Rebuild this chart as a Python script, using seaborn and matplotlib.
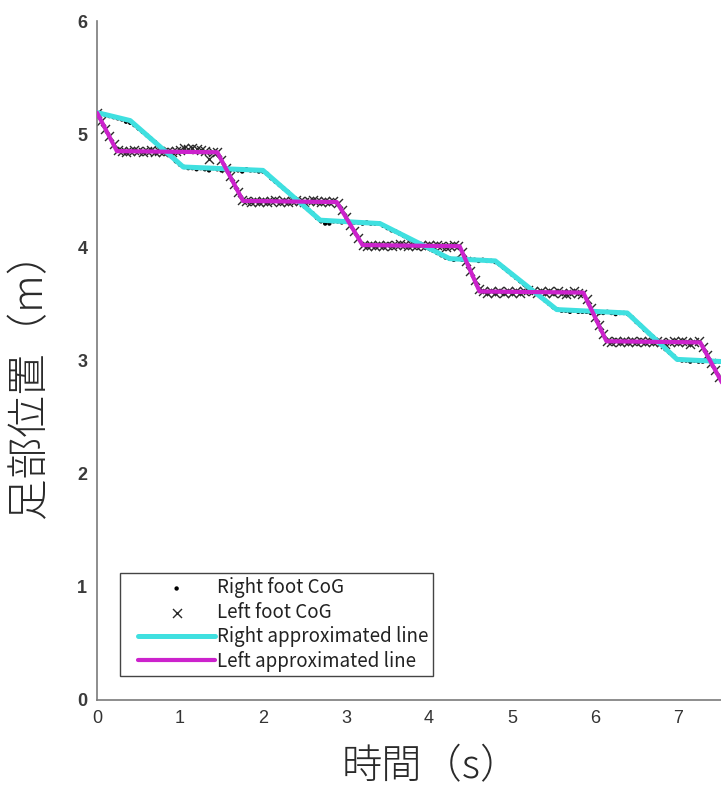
import numpy as np
import matplotlib
matplotlib.use('Agg')
import matplotlib.pyplot as plt
from matplotlib.lines import Line2D
from matplotlib.collections import PathCollection
from matplotlib.legend_handler import HandlerLine2D, HandlerPathCollection
import seaborn as sns

# ---- data ----
time_s = np.round(np.arange(151) * 0.05, 2)   # sampling instants 0.00 .. 7.50 s

right_foot = [
    5.19, 5.18, 5.17, 5.16, 5.15, 5.14, 5.13, 5.11, 5.10, 5.08,
    5.05, 5.02, 4.99, 4.96, 4.93, 4.89, 4.86, 4.83, 4.80, 4.76,
    4.73, 4.71, 4.70, 4.70, 4.69, 4.70, 4.69, 4.68, 4.70, 4.69,
    4.68, 4.69, 4.68, 4.69, 4.68, 4.67, 4.69, 4.68, 4.68, 4.67,
    4.67, 4.65, 4.61, 4.58, 4.55, 4.52, 4.49, 4.45, 4.42, 4.39,
    4.36, 4.33, 4.30, 4.26, 4.23, 4.21, 4.21, 4.23, 4.23, 4.22,
    4.23, 4.22, 4.22, 4.22, 4.21, 4.22, 4.21, 4.21, 4.21, 4.19,
    4.17, 4.15, 4.14, 4.12, 4.10, 4.08, 4.06, 4.04, 4.02, 4.00,
    3.99, 3.97, 3.95, 3.93, 3.91, 3.90, 3.89, 3.90, 3.89, 3.89,
    3.89, 3.89, 3.88, 3.89, 3.88, 3.88, 3.87, 3.85, 3.82, 3.79,
    3.76, 3.73, 3.70, 3.67, 3.64, 3.61, 3.59, 3.56, 3.53, 3.50,
    3.47, 3.45, 3.44, 3.44, 3.43, 3.44, 3.43, 3.43, 3.43, 3.42,
    3.43, 3.42, 3.42, 3.43, 3.42, 3.41, 3.42, 3.42, 3.41, 3.38,
    3.34, 3.31, 3.27, 3.24, 3.21, 3.17, 3.14, 3.10, 3.07, 3.04,
    3.01, 3.00, 3.00, 2.99, 3.00, 2.99, 2.99, 3.00, 2.99, 2.99,
    2.99,
]

left_foot = [
    5.19, 5.12, 5.05, 4.98, 4.91, 4.86, 4.85, 4.84, 4.85, 4.86,
    4.85, 4.84, 4.85, 4.86, 4.84, 4.85, 4.84, 4.85, 4.84, 4.85,
    4.86, 4.88, 4.87, 4.88, 4.87, 4.86, 4.85, 4.78, 4.84, 4.84,
    4.77, 4.70, 4.63, 4.56, 4.49, 4.42, 4.41, 4.40, 4.41, 4.40,
    4.41, 4.40, 4.41, 4.42, 4.40, 4.41, 4.40, 4.41, 4.42, 4.41,
    4.40, 4.41, 4.42, 4.41, 4.40, 4.41, 4.40, 4.41, 4.39, 4.33,
    4.27, 4.20, 4.14, 4.08, 4.02, 4.01, 4.02, 4.01, 4.02, 4.01,
    4.02, 4.01, 4.02, 4.03, 4.02, 4.01, 4.02, 4.01, 4.02, 4.01,
    4.02, 4.01, 4.02, 4.01, 4.00, 4.01, 4.02, 4.01, 3.96, 3.88,
    3.79, 3.71, 3.63, 3.61, 3.60, 3.61, 3.60, 3.61, 3.60, 3.61,
    3.60, 3.61, 3.60, 3.61, 3.62, 3.61, 3.60, 3.61, 3.60, 3.61,
    3.60, 3.61, 3.60, 3.59, 3.60, 3.61, 3.60, 3.59, 3.54, 3.46,
    3.38, 3.31, 3.23, 3.17, 3.16, 3.17, 3.16, 3.17, 3.16, 3.17,
    3.16, 3.17, 3.16, 3.17, 3.16, 3.17, 3.16, 3.15, 3.16, 3.17,
    3.16, 3.17, 3.16, 3.15, 3.16, 3.17, 3.12, 3.05, 2.98, 2.92,
    2.85,
]

right_line_t = [0.00, 0.12, 0.40, 1.04, 2.00, 2.69, 3.41, 4.25, 4.80, 5.54, 6.39, 6.99, 7.55]
right_line_y = [5.19, 5.17, 5.12, 4.71, 4.68, 4.24, 4.21, 3.90, 3.88, 3.45, 3.42, 3.01, 2.99]

left_line_t = [0.00, 0.24, 1.45, 1.76, 2.89, 3.20, 4.37, 4.61, 5.86, 6.14, 7.27, 7.55]
left_line_y = [5.19, 4.85, 4.84, 4.41, 4.40, 4.02, 4.01, 3.61, 3.60, 3.17, 3.16, 2.78]

x_ticks = [0, 1, 2, 3, 4, 5, 6, 7]
y_ticks = [0, 1, 2, 3, 4, 5, 6]

legend_labels = ["Right foot CoG", "Left foot CoG",
                 "Right approximated line", "Left approximated line"]
x_label = "時間（s）"
y_label = "足部位置（m）"

# ---- style ----
sns.set_style("white")
plt.rcParams['font.family'] = ['Noto Sans CJK JP', 'DejaVu Sans']

cyan = '#3FE0E0'
magenta = '#CC22CC'
spine_col = '#7a7a7a'

fig = plt.figure(figsize=(7.21, 7.92), dpi=100)
ax = fig.add_axes([97 / 721, 1 - 700 / 792, 1 - 97 / 721, 679 / 792])

sns.scatterplot(x=time_s, y=right_foot, ax=ax, marker='o', s=10, color='black',
                edgecolor='none', label=legend_labels[0], zorder=2)
sns.scatterplot(x=time_s, y=left_foot, ax=ax, marker='x', s=42, color='#2a2a2a',
                linewidth=1.0, label=legend_labels[1], zorder=2)
sns.lineplot(x=right_line_t, y=right_line_y, ax=ax, color=cyan, linewidth=3.6,
             sort=False, estimator=None, label=legend_labels[2], zorder=3)
sns.lineplot(x=left_line_t, y=left_line_y, ax=ax, color=magenta, linewidth=3.0,
             sort=False, estimator=None, label=legend_labels[3], zorder=4)

ax.set_xlim(0, 7.52)
ax.set_ylim(0, 6)
ax.set_xticks(x_ticks)
ax.set_yticks(y_ticks)
ax.set_xticklabels([str(v) for v in x_ticks], fontsize=13, color='#333333',
                   family=['Liberation Sans Narrow', 'Liberation Sans'])
ax.set_yticklabels([str(v) for v in y_ticks], fontsize=13, color='#3a3a3a',
                   fontweight='bold', family=['Liberation Sans'])
ax.tick_params(axis='both', direction='in', length=5, width=1, color=spine_col)
ax.tick_params(axis='x', pad=7)
ax.tick_params(axis='y', pad=7)

for side in ['top', 'right']:
    ax.spines[side].set_visible(False)
for side in ['left', 'bottom']:
    ax.spines[side].set_color(spine_col)
    ax.spines[side].set_linewidth(1.2)

ax.set_xlabel(x_label, fontsize=29, color='#2a2a2a', fontweight='light')
ax.set_ylabel(y_label, fontsize=30, color='#2a2a2a', fontweight='light')
ax.xaxis.set_label_coords(0.535, -0.068)
ax.yaxis.set_label_coords(-0.073, 0.48)

leg_fs = 13.5
pad_x = 0.71
leg = ax.legend(loc='lower left', bbox_to_anchor=(0.037, 0.035), borderaxespad=0,
                fancybox=False, edgecolor='#444444', framealpha=1,
                handlelength=4.82, handletextpad=0.1, labelspacing=0.18,
                borderpad=0.25, scatterpoints=1,
                handler_map={Line2D: HandlerLine2D(xpad=pad_x),
                             PathCollection: HandlerPathCollection(xpad=pad_x)},
                prop={'family': ['Noto Sans CJK JP', 'DejaVu Sans'], 'size': leg_fs})
leg.get_frame().set_linewidth(1.0)
for txt in leg.get_texts():
    txt.set_color('#222222')

fig.savefig('out.png', dpi=100)
